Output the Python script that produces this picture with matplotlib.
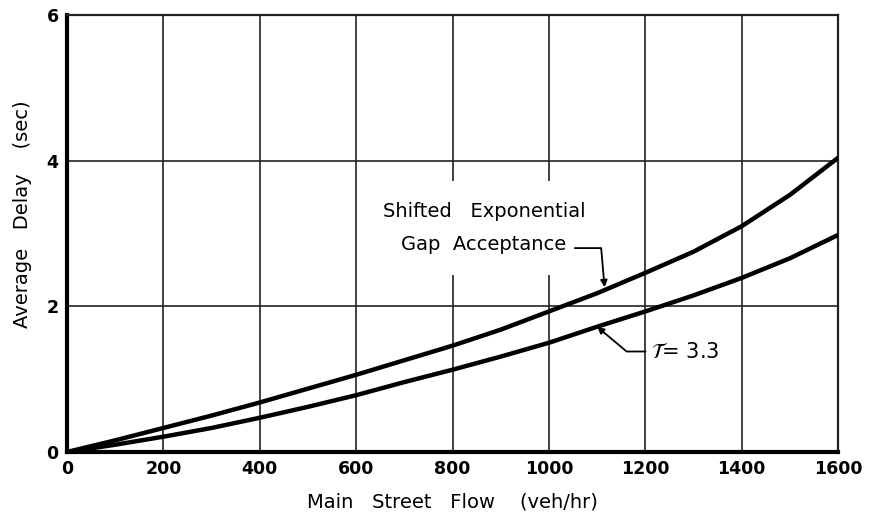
import numpy as np
import matplotlib.pyplot as plt

# main street flow (veh/hr) and average delay (sec)
flow = [0, 100, 200, 300, 400, 500, 600, 700, 800,
        900, 1000, 1100, 1200, 1300, 1400, 1500, 1600]
delay_shifted_exp = [0.0, 0.16, 0.33, 0.50, 0.68, 0.87, 1.06, 1.26, 1.46,
                     1.68, 1.93, 2.18, 2.46, 2.75, 3.10, 3.53, 4.04]
delay_tau_33 = [0.0, 0.10, 0.21, 0.33, 0.47, 0.62, 0.78, 0.96, 1.13,
                1.31, 1.50, 1.72, 1.93, 2.15, 2.39, 2.66, 2.98]

x_ticks = [0, 200, 400, 600, 800, 1000, 1200, 1400, 1600]
y_ticks = [0, 2, 4, 6]

fig = plt.figure(figsize=(8.73, 5.18), dpi=100)
ax = fig.add_axes([0.0767, 0.1274, 0.8833, 0.8436])

ax.plot(flow, delay_shifted_exp, color='black', lw=3.2, solid_capstyle='round', zorder=3)
ax.plot(flow, delay_tau_33, color='black', lw=3.2, solid_capstyle='round', zorder=3)

ax.set_xlim(0, 1600)
ax.set_ylim(0, 6)
ax.set_xticks(x_ticks)
ax.set_yticks(y_ticks)
ax.set_xticklabels([str(v) for v in x_ticks], fontsize=12.5, fontweight='bold')
ax.set_yticklabels([str(v) for v in y_ticks], fontsize=12.5, fontweight='bold')
ax.tick_params(length=0, pad=6)
ax.grid(True, color='#222222', lw=1.2)
ax.set_axisbelow(True)

for side in ['left', 'bottom']:
    ax.spines[side].set_linewidth(3)
for side in ['top', 'right']:
    ax.spines[side].set_linewidth(1.6)
    ax.spines[side].set_color('#222222')

ax.set_xlabel('Main   Street   Flow    (veh/hr)', fontsize=14, labelpad=10)
ax.set_ylabel('Average   Delay    (sec)', fontsize=14)
ax.yaxis.set_label_coords(-0.045, 0.545)

# curve labels with leader lines
ax.text(865, 3.08, 'Shifted   Exponential\nGap  Acceptance', fontsize=14,
        ha='center', va='center', linespacing=1.95, zorder=4,
        bbox=dict(facecolor='white', edgecolor='none', pad=15))
x_tip = 1116
ax.annotate('', xy=(x_tip, np.interp(x_tip, flow, delay_shifted_exp)),
            xytext=(1048, 2.80), zorder=5,
            arrowprops=dict(arrowstyle='-|>', color='black', lw=1.3,
                            connectionstyle='angle,angleA=0,angleB=95,rad=0',
                            mutation_scale=10))

x_tip2 = 1100
ax.annotate(r'$\mathcal{T}$= 3.3', xy=(x_tip2, np.interp(x_tip2, flow, delay_tau_33)),
            xytext=(1212, 1.38), fontsize=15, va='center', ha='left', zorder=5,
            arrowprops=dict(arrowstyle='-|>', color='black', lw=1.3,
                            connectionstyle='angle,angleA=180,angleB=-40,rad=0',
                            mutation_scale=10, shrinkA=2, shrinkB=0))

fig.savefig('out.png', dpi=100)
